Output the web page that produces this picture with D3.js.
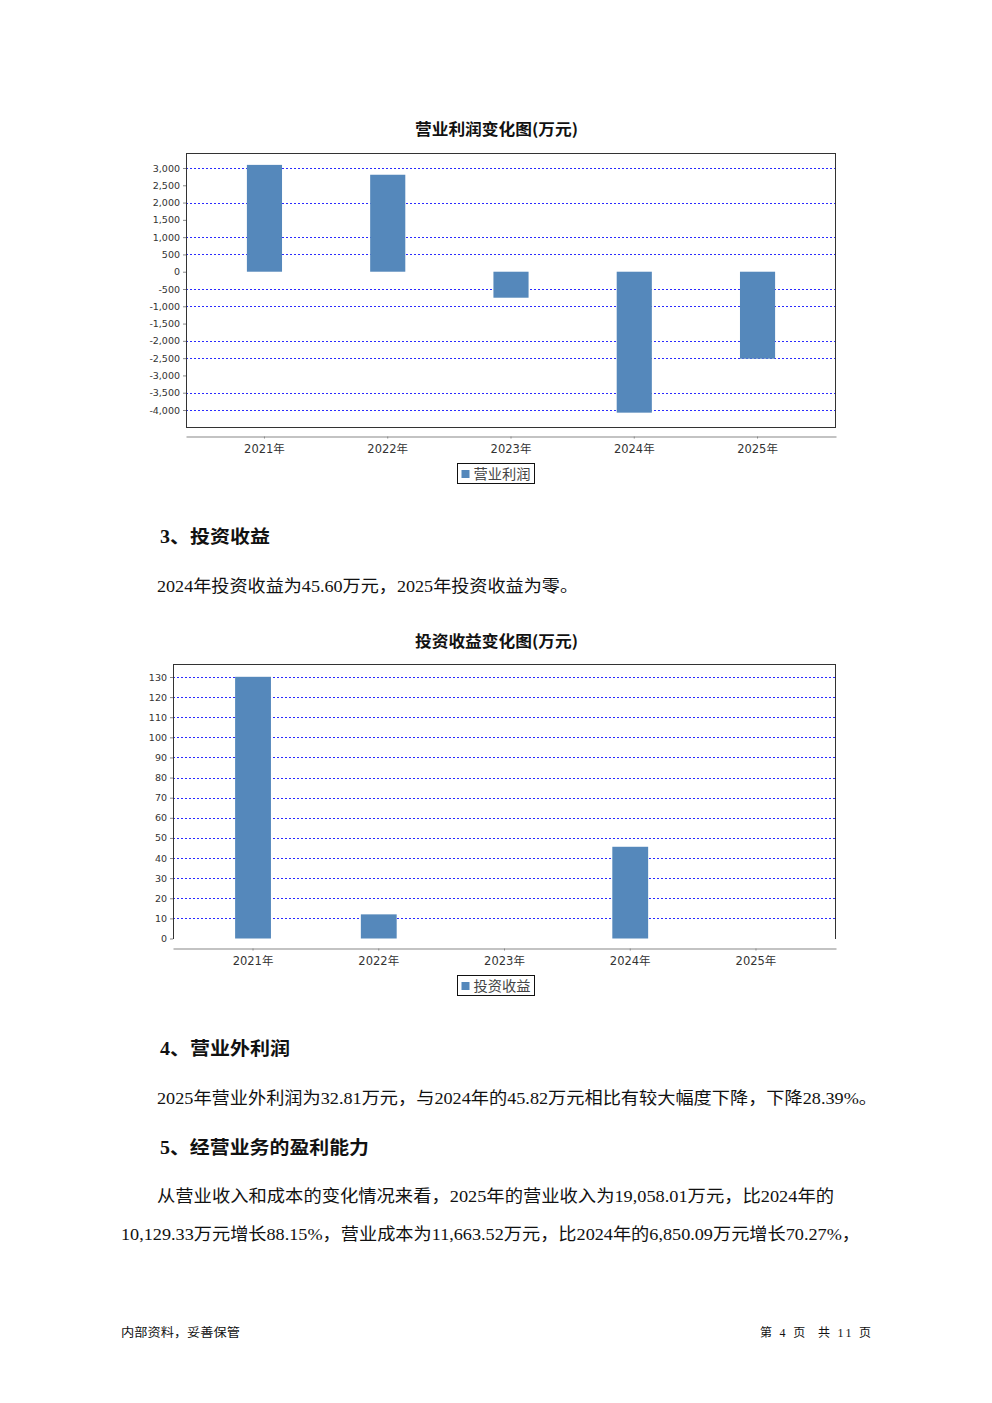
<!DOCTYPE html>
<html>
<head>
<meta charset="utf-8">
<script src="https://cdn.jsdelivr.net/npm/d3@7"></script>
<style>
  html, body { margin: 0; padding: 0; background: #fff; }
  svg { display: block; }
</style>
</head>
<body>
<svg id="page" width="992" height="1403"></svg>
<script>
// ---------- data ----------
const categories = ["2021年", "2022年", "2023年", "2024年", "2025年"];

const profitTitle = "营业利润变化图(万元)";
const profitLegend = "营业利润";
const profitValues = [3090, 2805, -752, -4077, -2516];
const profitTicks = [3000, 2500, 2000, 1500, 1000, 500, 0, -500, -1000, -1500, -2000, -2500, -3000, -3500, -4000];
const profitGridTicks = [3000, 2000, 1000, 500, -500, -1000, -2000, -2500, -3500, -4000];

const investTitle = "投资收益变化图(万元)";
const investLegend = "投资收益";
const investValues = [130.1, 12, 0, 45.6, 0];
const investTicks = [130, 120, 110, 100, 90, 80, 70, 60, 50, 40, 30, 20, 10, 0];
const investGridTicks = [130, 120, 110, 100, 90, 80, 70, 60, 50, 40, 30, 20, 10];

const textBlocks = [
  { kind: "h", text: "3、投资收益", x: 160, y: 543, w: 110 },
  { kind: "p", text: "2024年投资收益为45.60万元，2025年投资收益为零。", x: 157, y: 592, w: 421 },
  { kind: "h", text: "4、营业外利润", x: 160, y: 1055, w: 130 },
  { kind: "p", text: "2025年营业外利润为32.81万元，与2024年的45.82万元相比有较大幅度下降，下降28.39%。", x: 157, y: 1104, w: 720 },
  { kind: "h", text: "5、经营业务的盈利能力", x: 160, y: 1154, w: 209 },
  { kind: "p", text: "从营业收入和成本的变化情况来看，2025年的营业收入为19,058.01万元，比2024年的", x: 157, y: 1202, w: 677 },
  { kind: "p", text: "10,129.33万元增长88.15%，营业成本为11,663.52万元，比2024年的6,850.09万元增长70.27%，", x: 121, y: 1240, w: 739 }
];
const footerLeft = "内部资料，妥善保管";
const footerRight = "第 4 页  共 11 页";

// ---------- drawing ----------
const svg = d3.select("#page");
const BAR = "#5588bb";
const GRID = "#2b2bff";
const AXIS_FONT = "'DejaVu Sans', 'Noto Sans CJK SC', sans-serif";
const fmt = d3.formatLocale({ decimal: ".", thousands: ",", grouping: [3], currency: ["", ""], minus: "-" }).format(",");

function drawChart(cfg) {
  const g = svg.append("g");
  const x = d3.scaleBand().domain(categories)
    .range([cfg.left, cfg.right]).paddingInner(0.715).paddingOuter(0.494);
  const y = d3.scaleLinear().domain(cfg.yDomain).range(cfg.yRange);

  // title
  g.append("text").attr("x", 496.5).attr("y", cfg.titleY)
    .attr("text-anchor", "middle").attr("font-family", "'Noto Sans CJK SC', sans-serif")
    .attr("font-weight", "bold").attr("font-size", 15.5).attr("fill", "#111")
    .attr("textLength", 163).attr("lengthAdjust", "spacingAndGlyphs")
    .text(cfg.title);

  // gridlines
  g.append("g").selectAll("line").data(cfg.grid).join("line")
    .attr("x1", cfg.left).attr("x2", cfg.right)
    .attr("y1", d => Math.round(y(d)) + 0.5).attr("y2", d => Math.round(y(d)) + 0.5)
    .attr("stroke", GRID).attr("stroke-width", 1).attr("stroke-dasharray", "2,2");

  // bars
  g.append("g").selectAll("rect").data(cfg.values).join("rect")
    .attr("x", (d, i) => x(categories[i]))
    .attr("width", x.bandwidth())
    .attr("y", d => y(Math.max(0, d)))
    .attr("height", d => Math.abs(y(d) - y(0)))
    .attr("fill", BAR);

  // frame
  const f = g.append("g").attr("stroke", "#333").attr("stroke-width", 1).attr("fill", "none");
  f.append("line").attr("x1", cfg.left + 0.5).attr("x2", cfg.left + 0.5).attr("y1", cfg.top).attr("y2", cfg.bottom);
  f.append("line").attr("x1", cfg.right - 0.5).attr("x2", cfg.right - 0.5).attr("y1", cfg.top).attr("y2", cfg.bottom);
  f.append("line").attr("x1", cfg.left).attr("x2", cfg.right).attr("y1", cfg.top + 0.5).attr("y2", cfg.top + 0.5);
  if (cfg.bottomBorder) {
    f.append("line").attr("x1", cfg.left).attr("x2", cfg.right).attr("y1", cfg.bottom - 0.5).attr("y2", cfg.bottom - 0.5);
  }

  // y axis
  const ya = g.append("g").attr("transform", `translate(${cfg.left},0)`)
    .call(d3.axisLeft(y).tickValues(cfg.ticks).tickSize(3).tickPadding(3).tickFormat(fmt));
  ya.select(".domain").remove();
  ya.selectAll(".tick line").attr("stroke", "#888");
  ya.selectAll(".tick text").attr("font-family", AXIS_FONT).attr("font-size", 9.5).attr("fill", "#333");

  // x axis
  const xa = g.append("g").attr("transform", `translate(0,${cfg.xAxisY})`)
    .call(d3.axisBottom(x).tickSize(2).tickPadding(6).tickSizeOuter(0));
  xa.select(".domain").attr("stroke", "#888").attr("stroke-width", 1.2);
  xa.selectAll(".tick line").attr("stroke", "#888");
  xa.selectAll(".tick text").attr("font-family", AXIS_FONT).attr("font-size", 11.5).attr("fill", "#333");

  // legend
  const lx = 457.5, ly = cfg.legendY + 0.5;
  g.append("rect").attr("x", lx).attr("y", ly).attr("width", 77).attr("height", 20)
    .attr("fill", "#fff").attr("stroke", "#111").attr("stroke-width", 1);
  g.append("rect").attr("x", lx + 4).attr("y", ly + 6.5).attr("width", 8).attr("height", 8).attr("fill", BAR);
  g.append("text").attr("x", lx + 16).attr("y", ly + 15.5)
    .attr("font-family", "'Noto Sans CJK SC', sans-serif").attr("font-size", 14)
    .attr("fill", "#444").attr("textLength", 57).attr("lengthAdjust", "spacingAndGlyphs")
    .text(cfg.legend);
}

drawChart({
  title: profitTitle, titleY: 135, legend: profitLegend,
  values: profitValues, ticks: profitTicks, grid: profitGridTicks,
  left: 186, right: 836, top: 153, bottom: 428, bottomBorder: true,
  yDomain: [-4000, 3000], yRange: [410, 168],
  xAxisY: 436.5, legendY: 463
});

drawChart({
  title: investTitle, titleY: 647, legend: investLegend,
  values: investValues, ticks: investTicks, grid: investGridTicks,
  left: 173, right: 836, top: 664, bottom: 939, bottomBorder: false,
  yDomain: [0, 130], yRange: [938.5, 677],
  xAxisY: 948.5, legendY: 975
});

// ---------- text ----------
const TXT_FONT = "'Liberation Serif', 'Noto Sans CJK SC', serif";
svg.append("g").selectAll("text").data(textBlocks).join("text")
  .attr("x", d => d.x).attr("y", d => d.y)
  .attr("font-family", TXT_FONT)
  .attr("font-size", d => d.kind === "h" ? 18 : 16.5)
  .attr("font-weight", d => d.kind === "h" ? "bold" : "normal")
  .attr("fill", "#111")
  .attr("textLength", d => d.w).attr("lengthAdjust", "spacingAndGlyphs")
  .text(d => d.text);

svg.append("text").attr("x", 121).attr("y", 1337)
  .attr("font-family", "'Noto Sans CJK SC', sans-serif").attr("font-size", 12)
  .attr("fill", "#111").attr("textLength", 119).attr("lengthAdjust", "spacingAndGlyphs")
  .text(footerLeft);
svg.append("text").attr("x", 760).attr("y", 1337)
  .attr("font-family", "'Liberation Serif', 'Noto Sans CJK SC', serif").attr("font-size", 12)
  .attr("fill", "#111").style("white-space", "pre")
  .attr("textLength", 111).attr("lengthAdjust", "spacing")
  .text(footerRight);
</script>
</body>
</html>
